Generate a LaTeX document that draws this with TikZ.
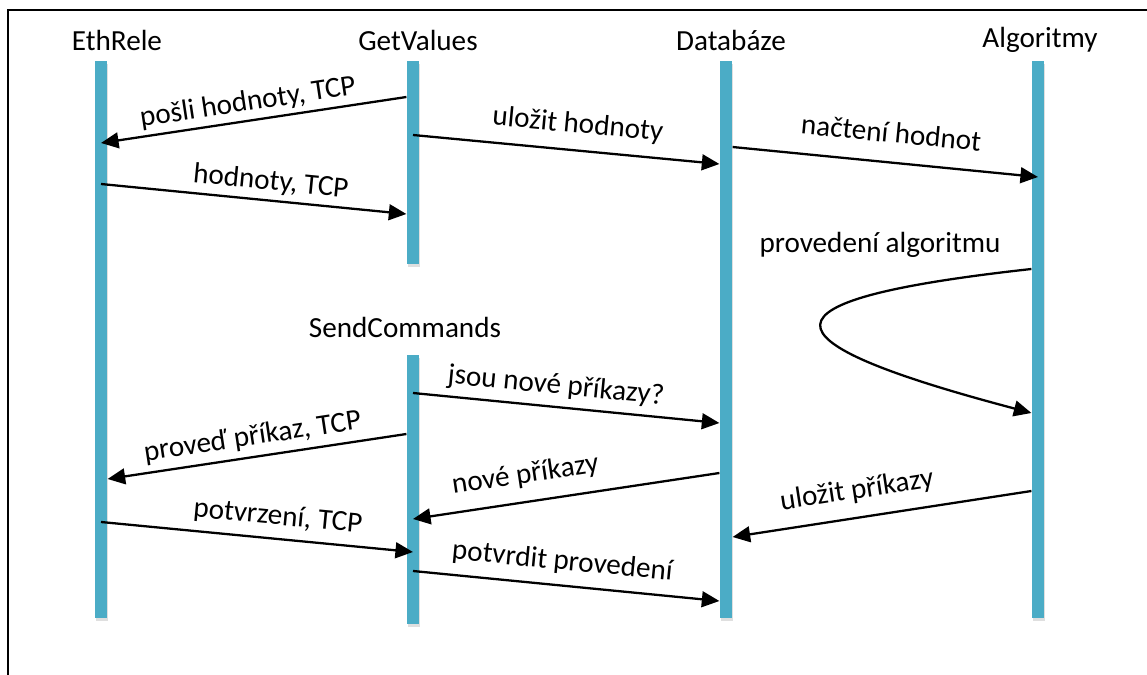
\documentclass[tikz,border=0pt]{standalone}
\usepackage{fontspec}
\setmainfont{Carlito}
\usetikzlibrary{arrows.meta}
\usetikzlibrary{positioning}
\usetikzlibrary{shadows}

\definecolor{barblue}{HTML}{4BACC6}

\begin{document}
\begin{tikzpicture}[
                    x=0.02cm, y=-0.02cm,
                    every node/.style={font=\fontsize{16.6}{20}\selectfont},
                    lifeline/.style={fill=barblue, minimum width=0.25cm, inner sep=0pt, anchor=north,
                                     drop shadow={shadow xshift=0.6pt, shadow yshift=-1.4pt, opacity=0.25}},
                    msg/.style={line width=1.3pt, -{Triangle[length=10pt, width=9pt]}},
                    lbl/.style={sloped, anchor=base, inner sep=0pt}
                ]
                \useasboundingbox (0,0) rectangle (1147,675);
                \draw[line width=1.1pt] (8,675) |- (1147,10);

                % lifelines
                \node[lifeline, minimum height=11.14cm] (eth) at (101,61) {};
                \node[lifeline, minimum height=4.06cm] (get) at (413,61) {};
                \node[lifeline, minimum height=5.38cm] (send) at (413,355) {};
                \node[lifeline, minimum height=11.14cm] (db) at (726,61) {};
                \node[lifeline, minimum height=11.14cm] (alg) at (1038,61) {};

                \node (ethlbl) at (117,40) {EthRele};
                \node (getlbl) at (418,40) {GetValues};
                \node (dblbl) at (731,40) {Databáze};
                \node (alglbl) at (1040,40) {Algoritmy};
                \node (sendlbl) at (405,327) {SendCommands};

                % messages
                \draw[msg] (get.west |- 0,97) -- node[lbl, pos=0.51, yshift=5.7pt]{pošli hodnoty, TCP} (eth |- 0,143);
                \draw[msg] (get |- 0,135) -- node[lbl, pos=0.53, yshift=10pt]{uložit hodnoty} (db.west |- 0,164);
                \draw[msg] (db.east |- 0,147) -- node[lbl, pos=0.51, yshift=11.3pt]{načtení hodnot} (alg |- 0,177);
                \draw[msg] (eth |- 0,184) -- node[lbl, pos=0.55, yshift=6pt]{hodnoty, TCP} (get.west |- 0,214);

                \node (exec) at (880,245) {provedení algoritmu};
                \draw[msg] (alg.west |- 0,269) .. controls (750,300) and (755,340) .. (alg.west |- 0,413);

                \draw[msg] (send |- 0,393) -- node[lbl, pos=0.46, yshift=7.4pt]{jsou nové příkazy?} (db.west |- 0,423);
                \draw[msg] (send.west |- 0,434) -- node[lbl, pos=0.505, yshift=6.8pt]{proveď příkaz, TCP} (eth.east |- 0,479);
                \draw[msg] (db.west |- 0,473) -- node[lbl, pos=0.62, yshift=10.8pt]{nové příkazy} (send |- 0,519);
                \draw[msg] (alg.west |- 0,491) -- node[lbl, pos=0.57, yshift=10.8pt]{uložit příkazy} (db.east |- 0,537);
                \draw[msg] (eth |- 0,522) -- node[lbl, pos=0.56, yshift=8pt]{potvrzení, TCP} (send |- 0,552);
                \draw[msg] (send |- 0,571) -- node[lbl, pos=0.48, yshift=9pt]{potvrdit provedení} (db.west |- 0,601);
            \end{tikzpicture}
\end{document}
